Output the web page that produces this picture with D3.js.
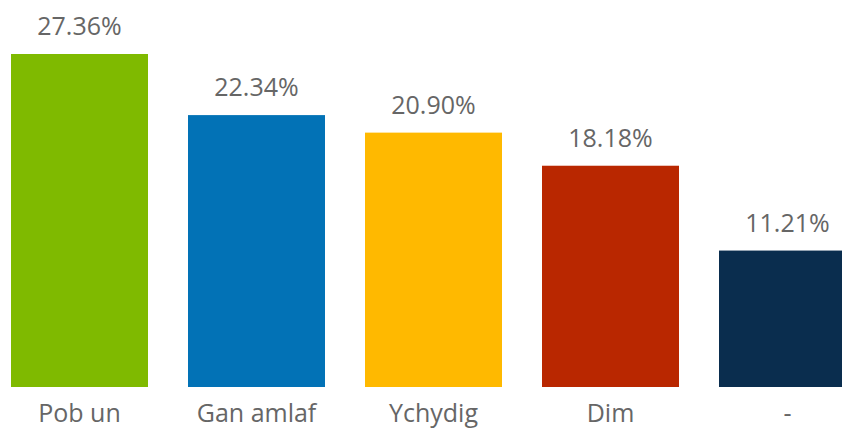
<!DOCTYPE html>
<html>
<head>
<meta charset="utf-8">
<script src="https://cdn.jsdelivr.net/npm/d3@7"></script>
<style>
  body { margin: 0; background: #fff; overflow: hidden; }
  text { font-family: "Open Sans", "Noto Sans", sans-serif; }
</style>
</head>
<body>
<div id="chart"></div>
<script>
// data
var categories = ["Pob un", "Gan amlaf", "Ychydig", "Dim", "-"];
var values = [27.36, 22.34, 20.90, 18.18, 11.21];
var colors = ["#7FBA00", "#0272B6", "#FFB900", "#B92700", "#0A2D4E"];

var width = 842, height = 428;

var svg = d3.select("#chart")
	.append("svg")
	.attr("width", width)
	.attr("height", height);

var data = categories.map(function (c, i) {
	return { cat: c, value: values[i], color: colors[i] };
});

// x: step 177, bar 137, last bar runs off the right edge
var x = d3.scaleBand()
	.domain(categories)
	.range([11, 856])
	.paddingInner(40 / 177)
	.paddingOuter(0);

var y = d3.scaleLinear()
	.domain([0, d3.max(values)])
	.range([387, 54]);

svg.selectAll("rect.bar")
	.data(data)
	.enter()
	.append("rect")
	.attr("class", "bar")
	.attr("x", function (d) { return x(d.cat); })
	.attr("y", function (d) { return y(d.value); })
	.attr("width", x.bandwidth())
	.attr("height", function (d) { return y(0) - y(d.value); })
	.attr("fill", function (d) { return d.color; });

// value labels
svg.selectAll("text.label")
	.data(data)
	.enter()
	.append("text")
	.attr("class", "label")
	.attr("x", function (d) { return x(d.cat) + x.bandwidth() / 2; })
	.attr("y", function (d) { return y(d.value) - 19; })
	.attr("text-anchor", "middle")
	.style("font-size", "25px")
	.style("fill", "#666")
	.text(function (d) { return d.value.toFixed(2) + "%"; });

// category axis (labels only)
var axis = svg.append("g")
	.attr("transform", "translate(0," + y(0) + ")")
	.call(d3.axisBottom(x).tickSize(0).tickPadding(0));
axis.select(".domain").remove();
axis.selectAll("text")
	.attr("dy", null)
	.attr("y", 35)
	.style("font-family", "'Open Sans', 'Noto Sans', sans-serif")
	.style("font-size", "25px")
	.style("fill", "#666");
</script>
</body>
</html>
